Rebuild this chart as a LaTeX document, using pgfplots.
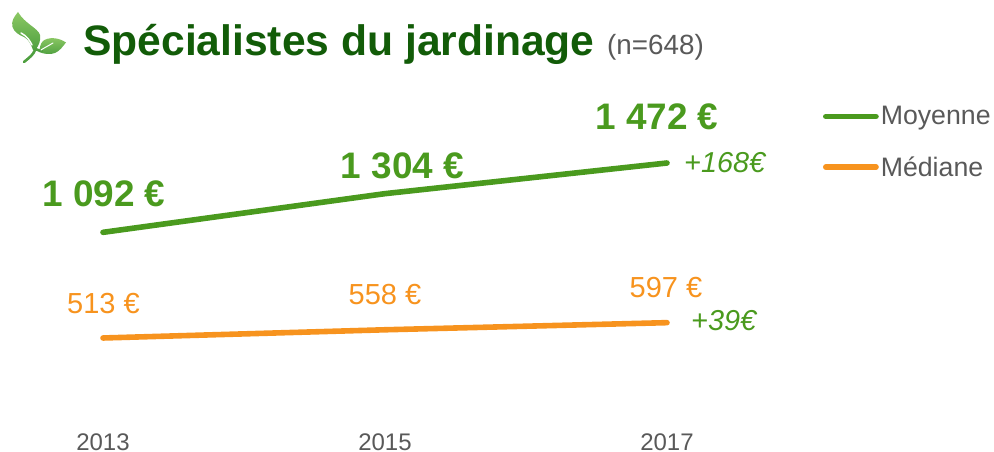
\documentclass[border=0pt]{standalone}
\usepackage{pgfplots}
\pgfplotsset{compat=1.18}
\usepackage{fontspec}
\setmainfont{Liberation Sans}
\definecolor{grn}{HTML}{4A9A1E}
\definecolor{dgrn}{HTML}{125C08}
\definecolor{org}{HTML}{F7931E}
\definecolor{gry}{HTML}{595959}
\definecolor{leaftop}{HTML}{8CC864}
\definecolor{leafbot}{HTML}{4FA040}
\newcommand{\fs}[1]{\fontsize{#1pt}{#1pt}\selectfont}
\begin{document}
\begin{tikzpicture}
\useasboundingbox (0,0) rectangle (994pt,452pt);
\begin{axis}[
  at={(103pt,20.4pt)}, anchor=south west,
  scale only axis, width=564pt, height=268.6pt,
  xmin=2013, xmax=2017, ymin=0, ymax=1472,
  axis line style={draw=none}, clip=false,
  xtick={2013,2015,2017}, ytick=\empty,
  x tick label style={/pgf/number format/1000 sep={}, text=gry, font=\fs{24}, inner sep=0pt, yshift=-1.5pt},
  /pgf/number format/assume math mode=true,
  major tick length=0pt,
  legend style={draw=none, fill=none, at={(720pt,327pt)}, anchor=north west,
    font=\fs{26.7}, text=gry, row sep=26pt, inner sep=0pt, outer sep=0pt,
    /tikz/every even column/.append style={column sep=0pt}},
  legend cell align=left,
]
\addplot[grn, line width=5.6pt, line cap=round, line join=round,
  legend image code/.code={\draw[grn, line width=5.6pt, line cap=round] (2.8pt,0pt)--(53pt,0pt);}]
  coordinates {(2013,1092) (2015,1304) (2017,1472)};
\addlegendentry{\hspace{0pt}Moyenne}
\addplot[org, line width=5.6pt, line cap=round, line join=round,
  legend image code/.code={\draw[org, line width=5.6pt, line cap=round] (2.8pt,0pt)--(53pt,0pt);}]
  coordinates {(2013,513) (2015,558) (2017,597)};
\addlegendentry{\hspace{0pt}Médiane}
\end{axis}
\begin{scope}[x=1pt,y=-1pt,yshift=452pt]
  % logo
  \shade[top color=leaftop, bottom color=leafbot]
    (18,12) .. controls (14,17) and (11,21) .. (12.5,27) .. controls (14,32) and (19,35) .. (24,37)
    .. controls (28,39) and (31,44) .. (33,50) -- (35,50)
    .. controls (39,46) and (41,40) .. (40,35) .. controls (38,28) and (25,24) .. (18,12) -- cycle;
  \shade[top color=leaftop, bottom color=leafbot]
    (66,42.5) .. controls (58,37) and (48,37) .. (43,41) .. controls (40,44) and (40,48) .. (39,52)
    .. controls (44,54) and (50,55) .. (55,53) .. controls (60,51) and (63,46) .. (66,42.5) -- cycle;
  \draw[leafbot, line width=2.6pt, line cap=round]
    (24,62) .. controls (30,57) and (33,55) .. (35,50) .. controls (36,48) and (38,51) .. (42,51);
  \draw[white, line width=1.5pt, line cap=round]
    (32,45) .. controls (30,41) and (27,36) .. (21,33);
  \draw[white, line width=1pt, line cap=round]
    (41,50) .. controls (44,48) and (48,46) .. (53,43);
  % title
  \node[anchor=base west, inner sep=0pt, text=dgrn, font=\fs{42.6}\bfseries] at (83,56) {Spécialistes du jardinage};
  \node[anchor=base west, inner sep=0pt, text=gry, font=\fs{27.8}] at (607,55) {(n=648)};
  % value labels
  \node[anchor=base, inner sep=0pt, text=grn, font=\fs{36.9}\bfseries] at (104,207) {1 092 €};
  \node[anchor=base, inner sep=0pt, text=grn, font=\fs{36.9}\bfseries] at (402.5,179) {1 304 €};
  \node[anchor=base, inner sep=0pt, text=grn, font=\fs{36.9}\bfseries] at (657,130) {1 472 €};
  \node[anchor=base, inner sep=0pt, text=org, font=\fs{29}] at (103.5,314) {513 €};
  \node[anchor=base, inner sep=0pt, text=org, font=\fs{29}] at (385,305) {558 €};
  \node[anchor=base, inner sep=0pt, text=org, font=\fs{29}] at (666,298) {597 €};
  \node[anchor=base west, inner sep=0pt, text=grn, font=\fs{28.8}\itshape] at (684,173) {+168€};
  \node[anchor=base west, inner sep=0pt, text=grn, font=\fs{28.8}\itshape] at (691,331) {+39€};
\end{scope}
\end{tikzpicture}
\end{document}
